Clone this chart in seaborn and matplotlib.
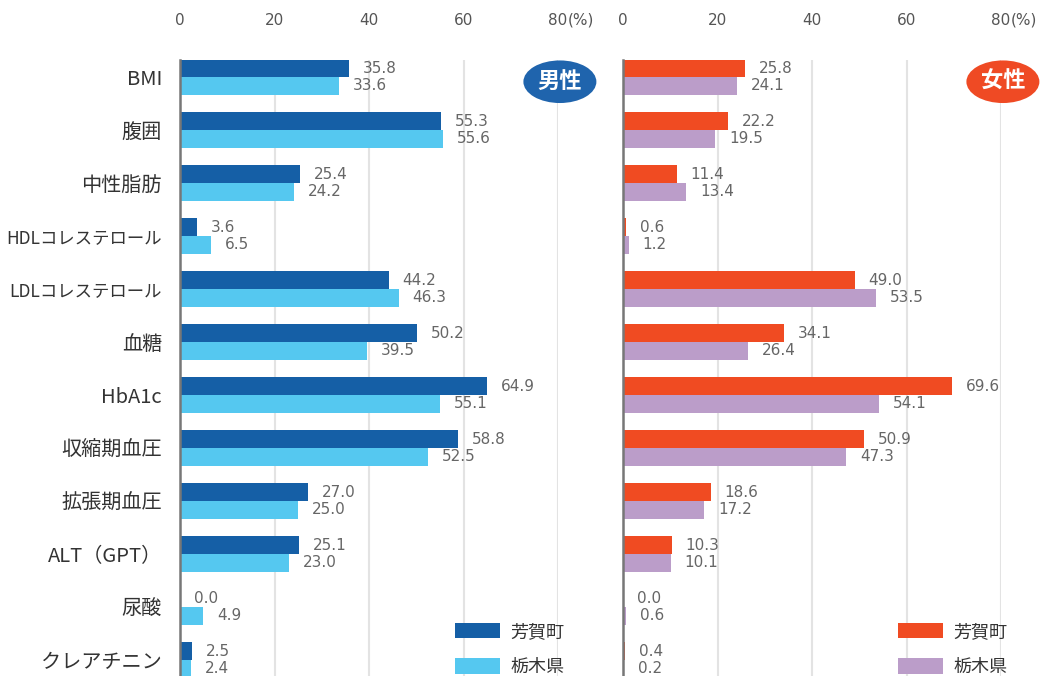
import pandas as pd
import seaborn as sns
import matplotlib.pyplot as plt
from matplotlib.patches import Patch

# データ
items = ["BMI", "腹囲", "中性脂肪", "HDLコレステロール", "LDLコレステロール", "血糖",
         "HbA1c", "収縮期血圧", "拡張期血圧", "ALT（GPT）", "尿酸", "クレアチニン"]
regions = ["芳賀町", "栃木県"]
male_town = [35.8, 55.3, 25.4, 3.6, 44.2, 50.2, 64.9, 58.8, 27.0, 25.1, 0.0, 2.5]
male_pref = [33.6, 55.6, 24.2, 6.5, 46.3, 39.5, 55.1, 52.5, 25.0, 23.0, 4.9, 2.4]
female_town = [25.8, 22.2, 11.4, 0.6, 49.0, 34.1, 69.6, 50.9, 18.6, 10.3, 0.0, 0.4]
female_pref = [24.1, 19.5, 13.4, 1.2, 53.5, 26.4, 54.1, 47.3, 17.2, 10.1, 0.6, 0.2]
xticks = [0, 20, 40, 60, 80]

male_colors = ["#155fa6", "#55c8f0"]
female_colors = ["#f04b22", "#bb9dc9"]


def long_df(town, pref):
    return pd.DataFrame({
        "項目": items * 2,
        "地域": [regions[0]] * len(items) + [regions[1]] * len(items),
        "値": town + pref,
    })


sns.set_theme(style="white")
plt.rcParams["font.family"] = ["Noto Sans CJK JP", "DejaVu Sans"]

fig = plt.figure(figsize=(10.4, 6.76), dpi=100)
W, H = 1040, 676
ax_m = fig.add_axes([180 / W, 0, 378 / W, 616 / H])
ax_f = fig.add_axes([623 / W, 0, 378 / W, 616 / H])

panels = [
    (ax_m, long_df(male_town, male_pref), male_colors, "男性", "#1f64ad"),
    (ax_f, long_df(female_town, female_pref), female_colors, "女性", "#ef4a24"),
]

for ax, df, colors, badge, badge_col in panels:
    sns.barplot(data=df, y="項目", x="値", hue="地域", orient="h",
                palette=colors, width=0.67, ax=ax, legend=False,
                saturation=1, linewidth=0)
    for cont in ax.containers:
        ax.bar_label(cont, fmt="%.1f", padding=10, color="#666666",
                     fontsize=11, fontfamily="DejaVu Sans")

    ax.set_xlim(0, 80)
    ax.set_ylim(11.30, -0.32)
    ax.set_xlabel("")
    ax.set_ylabel("")
    ax.xaxis.tick_top()
    ax.set_xticks(xticks)
    ax.set_xticklabels([str(t) for t in xticks], fontfamily="DejaVu Sans",
                       color="#555555", fontsize=11)
    ax.tick_params(axis="x", length=0, pad=23)
    ax.tick_params(axis="y", length=0, pad=13)
    # "(%)" right after the 80 tick label
    ax.annotate("(%)", xy=(80, 1), xycoords=("data", "axes fraction"),
                xytext=(7, 28.5), textcoords="offset points",
                ha="left", va="center", fontsize=11, color="#555555",
                fontfamily="DejaVu Sans", annotation_clip=False)

    for x in xticks[1:]:
        ax.axvline(x, color="#e3e3e3", lw=1.5, zorder=0)
    for s in ["top", "right", "bottom"]:
        ax.spines[s].set_visible(False)
    ax.spines["left"].set_color("#777777")
    ax.spines["left"].set_linewidth(1.8)

    ax.text(80.4, 0.09, badge, ha="center", va="center", color="white",
            fontsize=16, fontweight="bold",
            bbox=dict(boxstyle="ellipse,pad=0.16", fc=badge_col, ec="none"))

    handles = [Patch(facecolor=c, edgecolor="none") for c in colors]
    ax.legend(handles, regions, loc="lower left", bbox_to_anchor=(0.7275, 0.0),
              frameon=False, borderpad=0, borderaxespad=0, fontsize=13,
              handlelength=2.5, handleheight=0.95, labelspacing=0.95,
              handletextpad=0.55, labelcolor="#333333")

ax_m.set_yticks(range(len(items)))
ax_m.set_yticklabels(items, fontsize=14.5, color="#333333")
for lab in ax_m.get_yticklabels():
    if "コレステロール" in lab.get_text():
        lab.set_fontsize(12.5)
ax_f.set_yticks(range(len(items)))
ax_f.set_yticklabels([])

fig.savefig("out.png", dpi=100)
